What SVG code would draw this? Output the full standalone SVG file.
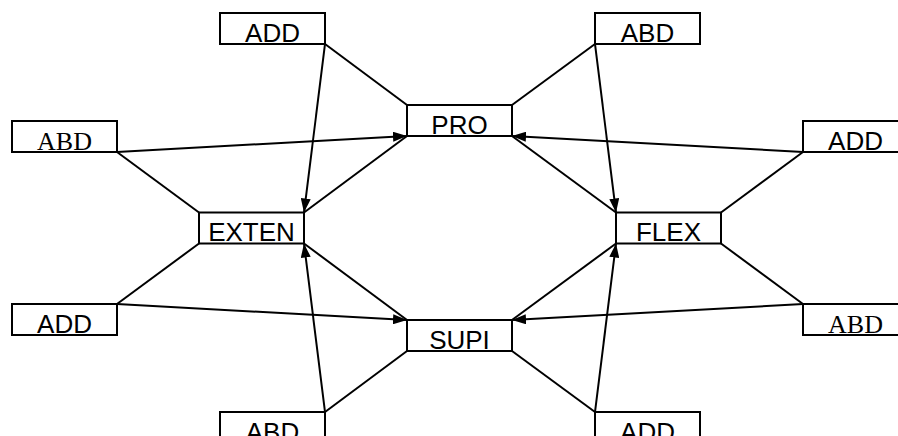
<svg xmlns="http://www.w3.org/2000/svg" width="898" height="436" viewBox="0 0 898 436">
  <style>
    .box { fill: #ffffff; stroke: #000000; stroke-width: 2; }
    .sans { font-family: "Liberation Sans", Arial, sans-serif; font-size: 26px; text-anchor: middle; fill: #000000; }
    .serif { font-family: "Liberation Serif", "Times New Roman", serif; font-size: 26px; text-anchor: middle; fill: #000000; }
    .edge { stroke: #000000; stroke-width: 2; fill: none; }
    .arrow { marker-end: url(#head); }
  </style>
  <defs>
    <marker id="head" markerUnits="userSpaceOnUse" markerWidth="14" markerHeight="10" refX="14" refY="5" orient="auto">
      <path d="M0,0 L14,5 L0,10 Z" fill="#000000"/>
    </marker>
  </defs>
  <rect width="898" height="436" fill="#ffffff"/>

  <g id="connectors">
    <line class="edge" x1="325" y1="44" x2="407" y2="105"/>
    <line class="edge arrow" x1="325" y1="44" x2="304" y2="212.5"/>
    <line class="edge arrow" x1="117" y1="152" x2="407" y2="136"/>
    <line class="edge" x1="117" y1="152" x2="199" y2="212.5"/>
    <line class="edge" x1="304" y1="212.5" x2="407" y2="136"/>

    <line class="edge" x1="595" y1="44" x2="512" y2="105"/>
    <line class="edge arrow" x1="595" y1="44" x2="616" y2="212.5"/>
    <line class="edge arrow" x1="803" y1="152" x2="512" y2="136"/>
    <line class="edge" x1="803" y1="152" x2="721" y2="212.5"/>
    <line class="edge" x1="512" y1="136" x2="616" y2="212.5"/>

    <line class="edge" x1="117" y1="304" x2="199" y2="243.5"/>
    <line class="edge arrow" x1="117" y1="304" x2="407" y2="320"/>
    <line class="edge arrow" x1="325" y1="412" x2="304" y2="243.5"/>
    <line class="edge" x1="325" y1="412" x2="407" y2="351"/>
    <line class="edge" x1="304" y1="243.5" x2="407" y2="320"/>

    <line class="edge arrow" x1="803" y1="304" x2="512" y2="320"/>
    <line class="edge" x1="803" y1="304" x2="721" y2="243.5"/>
    <line class="edge arrow" x1="595" y1="412" x2="616" y2="243.5"/>
    <line class="edge" x1="595" y1="412" x2="512" y2="351"/>
    <line class="edge" x1="512" y1="320" x2="616" y2="243.5"/>
  </g>

  <g id="pro">
    <rect class="box" x="407" y="105" width="105" height="31"/>
    <text class="sans" x="459.5" y="133.5">PRO</text>
  </g>
  <g id="exten">
    <rect class="box" x="199" y="212.5" width="105" height="31"/>
    <text class="sans" x="251.5" y="241">EXTEN</text>
  </g>
  <g id="flex">
    <rect class="box" x="616" y="212.5" width="105" height="31"/>
    <text class="sans" x="668.5" y="241">FLEX</text>
  </g>
  <g id="supi">
    <rect class="box" x="407" y="320" width="105" height="31"/>
    <text class="sans" x="459.5" y="348.5">SUPI</text>
  </g>

  <g id="add-top-left">
    <rect class="box" x="220" y="13" width="105" height="31"/>
    <text class="sans" x="272.5" y="41.5">ADD</text>
  </g>
  <g id="abd-top-right">
    <rect class="box" x="595" y="13" width="105" height="31"/>
    <text class="sans" x="647.5" y="41.5">ABD</text>
  </g>
  <g id="abd-left">
    <rect class="box" x="12" y="121" width="105" height="31"/>
    <text class="serif" x="64.5" y="149.5">ABD</text>
  </g>
  <g id="add-right">
    <rect class="box" x="803" y="121" width="105" height="31"/>
    <text class="sans" x="855.5" y="149.5">ADD</text>
  </g>
  <g id="add-lower-left">
    <rect class="box" x="12" y="304" width="105" height="31"/>
    <text class="sans" x="64.5" y="332.5">ADD</text>
  </g>
  <g id="abd-lower-right">
    <rect class="box" x="803" y="304" width="105" height="31"/>
    <text class="serif" x="855.5" y="332.5">ABD</text>
  </g>
  <g id="abd-bottom">
    <rect class="box" x="220" y="412" width="105" height="31"/>
    <text class="sans" x="272.5" y="440.5">ABD</text>
  </g>
  <g id="add-bottom">
    <rect class="box" x="595" y="412" width="105" height="31"/>
    <text class="sans" x="647.5" y="440.5">ADD</text>
  </g>
</svg>
